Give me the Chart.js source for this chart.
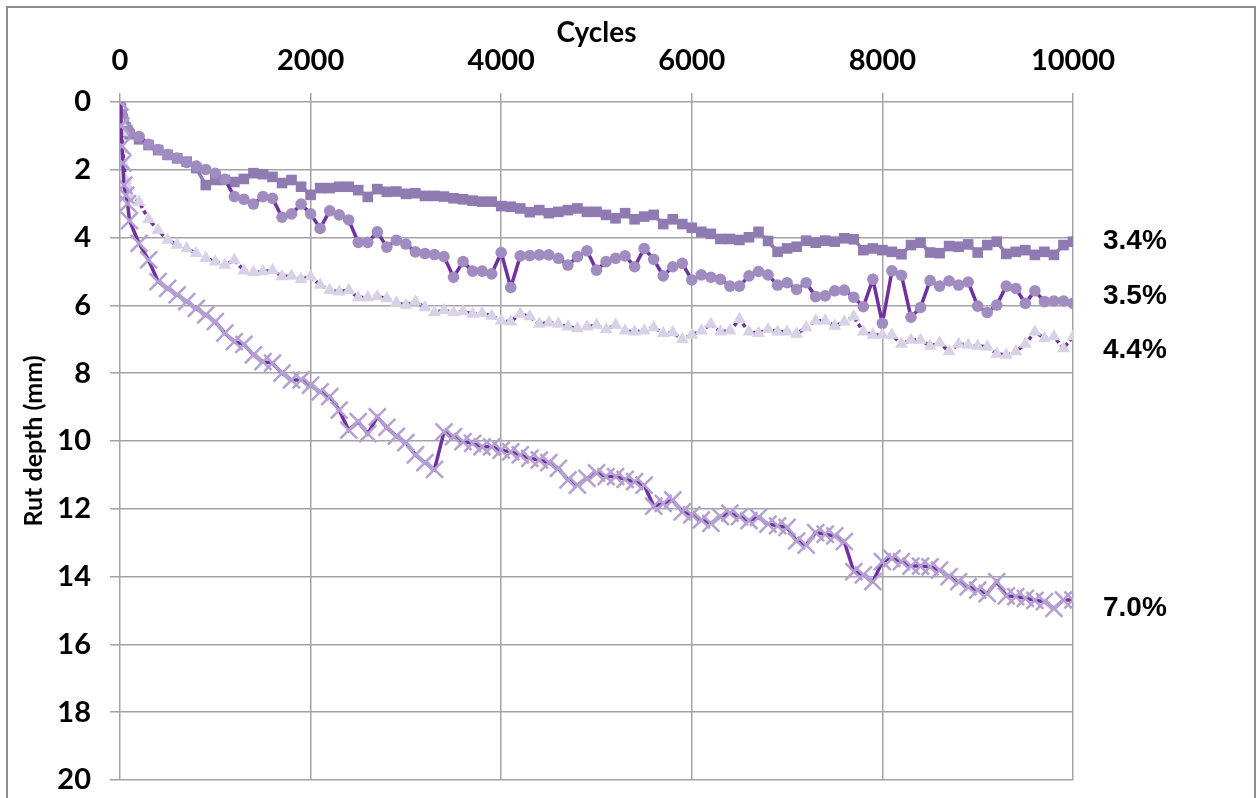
<!DOCTYPE html>
<html>
<head>
<meta charset="utf-8">
<script src="https://cdn.jsdelivr.net/npm/chart.js@4"></script>
<style>
  html, body { margin: 0; padding: 0; background: #fff; }
  canvas { display: block; }
</style>
</head>
<body>
<canvas id="rutChart" width="1260" height="798"></canvas>
<script>
// cycles at which rut depth was read
const cycles = [
    0, 10, 20, 30, 40, 60, 80,
    100, 200, 300, 400, 500, 600, 700, 800, 900, 1000,
    1100, 1200, 1300, 1400, 1500, 1600, 1700, 1800, 1900, 2000,
    2100, 2200, 2300, 2400, 2500, 2600, 2700, 2800, 2900, 3000,
    3100, 3200, 3300, 3400, 3500, 3600, 3700, 3800, 3900, 4000,
    4100, 4200, 4300, 4400, 4500, 4600, 4700, 4800, 4900, 5000,
    5100, 5200, 5300, 5400, 5500, 5600, 5700, 5800, 5900, 6000,
    6100, 6200, 6300, 6400, 6500, 6600, 6700, 6800, 6900, 7000,
    7100, 7200, 7300, 7400, 7500, 7600, 7700, 7800, 7900, 8000,
    8100, 8200, 8300, 8400, 8500, 8600, 8700, 8800, 8900, 9000,
    9100, 9200, 9300, 9400, 9500, 9600, 9700, 9800, 9900, 10000
];

// rut depth (mm), one array per mix
const rut34 = [
    0, 0.2, 0.35, 0.5, 0.65, 0.75, 0.85,
    0.95, 1.10, 1.27, 1.42, 1.56, 1.66, 1.76, 1.95, 2.45, 2.30,
    2.30, 2.36, 2.27, 2.10, 2.13, 2.21, 2.39, 2.30, 2.50, 2.74,
    2.54, 2.54, 2.50, 2.50, 2.60, 2.80, 2.57, 2.65, 2.64, 2.71,
    2.69, 2.77, 2.77, 2.79, 2.84, 2.87, 2.91, 2.94, 2.94, 3.07,
    3.09, 3.14, 3.25, 3.19, 3.28, 3.24, 3.19, 3.14, 3.24, 3.24,
    3.33, 3.43, 3.28, 3.46, 3.38, 3.33, 3.60, 3.46, 3.60, 3.71,
    3.83, 3.89, 4.04, 4.04, 4.07, 3.99, 3.83, 4.10, 4.42, 4.32,
    4.27, 4.09, 4.15, 4.09, 4.12, 4.02, 4.05, 4.37, 4.32, 4.37,
    4.42, 4.49, 4.22, 4.15, 4.44, 4.46, 4.25, 4.27, 4.20, 4.44,
    4.22, 4.12, 4.48, 4.42, 4.37, 4.51, 4.42, 4.51, 4.22, 4.12
];
const rut35 = [
    0, 0.25, 0.4, 0.55, 0.65, 0.72, 0.8,
    0.88, 1.02, 1.25, 1.40, 1.55, 1.65, 1.78, 1.89, 1.99, 2.10,
    2.28, 2.79, 2.87, 3.01, 2.79, 2.84, 3.40, 3.30, 3.01, 3.30,
    3.73, 3.21, 3.33, 3.48, 4.14, 4.14, 3.83, 4.28, 4.08, 4.19,
    4.42, 4.47, 4.50, 4.56, 5.17, 4.71, 4.99, 4.99, 5.07, 4.44,
    5.47, 4.54, 4.53, 4.51, 4.51, 4.61, 4.81, 4.56, 4.39, 4.96,
    4.71, 4.61, 4.54, 4.86, 4.32, 4.64, 5.13, 4.86, 4.76, 5.25,
    5.10, 5.17, 5.23, 5.43, 5.43, 5.13, 5.00, 5.10, 5.40, 5.33,
    5.53, 5.33, 5.74, 5.72, 5.57, 5.55, 5.76, 6.04, 5.23, 6.53,
    4.98, 5.11, 6.35, 6.06, 5.27, 5.43, 5.28, 5.40, 5.31, 6.02,
    6.21, 5.99, 5.43, 5.50, 5.94, 5.57, 5.89, 5.87, 5.87, 5.94
];
const rut44 = [
    0.1, 0.6, 0.9, 1.4, 1.85, 2.3, 2.5,
    2.74, 2.95, 3.46, 3.78, 4.07, 4.22, 4.32, 4.46, 4.61, 4.71,
    4.81, 4.66, 4.98, 5.03, 5.00, 4.96, 5.15, 5.13, 5.23, 5.15,
    5.40, 5.55, 5.60, 5.55, 5.77, 5.77, 5.74, 5.80, 5.92, 5.99,
    5.89, 6.06, 6.21, 6.14, 6.21, 6.18, 6.25, 6.23, 6.31, 6.45,
    6.48, 6.25, 6.33, 6.55, 6.51, 6.55, 6.63, 6.68, 6.63, 6.58,
    6.71, 6.58, 6.75, 6.78, 6.75, 6.65, 6.82, 6.80, 7.00, 6.87,
    6.75, 6.55, 6.78, 6.75, 6.41, 6.78, 6.82, 6.70, 6.78, 6.78,
    6.84, 6.65, 6.45, 6.45, 6.61, 6.48, 6.33, 6.78, 6.87, 6.87,
    6.87, 7.14, 7.02, 7.02, 7.20, 7.10, 7.36, 7.14, 7.17, 7.20,
    7.22, 7.43, 7.46, 7.36, 7.14, 6.78, 6.97, 6.92, 7.27, 6.92
];
const rut70 = [
    0, 0.7, 1.3, 1.8, 2.45, 2.75, 3.0,
    3.50, 4.17, 4.66, 5.30, 5.50, 5.69, 5.89, 6.09, 6.28, 6.48,
    6.82, 7.07, 7.15, 7.46, 7.66, 7.70, 8.00, 8.20, 8.20, 8.35,
    8.55, 8.69, 9.09, 9.68, 9.43, 9.78, 9.29, 9.60, 9.86, 10.05,
    10.41, 10.64, 10.84, 9.73, 9.87, 10.02, 10.07, 10.17, 10.17, 10.27,
    10.32, 10.41, 10.51, 10.56, 10.64, 10.81, 11.15, 11.30, 11.10, 10.94,
    11.05, 11.05, 11.13, 11.20, 11.30, 11.92, 11.84, 11.74, 12.09, 12.18,
    12.33, 12.43, 12.23, 12.13, 12.23, 12.35, 12.25, 12.45, 12.50, 12.55,
    12.95, 13.07, 12.70, 12.75, 12.80, 12.97, 13.85, 13.95, 14.15, 13.56,
    13.46, 13.56, 13.69, 13.69, 13.71, 13.81, 14.00, 14.15, 14.30, 14.40,
    14.50, 14.15, 14.57, 14.59, 14.64, 14.70, 14.74, 14.94, 14.69, 14.69
];

const seriesLabels = ['3.4%', '3.5%', '4.4%', '7.0%'];
const xTicks = [0, 2000, 4000, 6000, 8000, 10000];
const yTicks = [0, 2, 4, 6, 8, 10, 12, 14, 16, 18, 20];

// where the side labels sit, in mm on the depth axis
const labelDepth = [4.1, 5.72, 7.32, 14.93];

function toPoints(vals) {
    return cycles.map((c, i) => ({ x: c, y: vals[i] }));
}

const darkPurple = '#7030a0';
const tickFont = { family: 'Lato', weight: 'bold', size: 29 };

const sideLabels = {
    id: 'sideLabels',
    afterDraw(chart) {
        const ctx = chart.ctx;
        const y = chart.scales.y;
        ctx.save();
        // outer frame
        ctx.strokeStyle = '#8c8c8c';
        ctx.lineWidth = 2;
        ctx.strokeRect(7, 7, 1248, 800);
        ctx.fillStyle = '#000';
        ctx.font = 'bold 28px "Liberation Sans", Arial, sans-serif';
        ctx.textAlign = 'left';
        ctx.textBaseline = 'middle';
        seriesLabels.forEach((txt, i) => {
            ctx.fillText(txt, 1103, y.getPixelForValue(labelDepth[i]));
        });
        ctx.restore();
    }
};

new Chart(document.getElementById('rutChart'), {
    type: 'scatter',
    data: {
        datasets: [{
            label: seriesLabels[0],
            data: toPoints(rut34),
            showLine: true,
            borderColor: '#8f7ab2',
            borderWidth: 3.5,
            pointStyle: 'rect',
            pointRadius: 7.5,
            pointBackgroundColor: '#8f7ab2',
            pointBorderWidth: 0,
            order: 4
        }, {
            label: seriesLabels[1],
            data: toPoints(rut35),
            showLine: true,
            borderColor: darkPurple,
            borderWidth: 3.5,
            pointStyle: 'circle',
            pointRadius: 5.8,
            pointBackgroundColor: '#a08cc0',
            pointBorderWidth: 0,
            order: 3
        }, {
            label: seriesLabels[2],
            data: toPoints(rut44),
            showLine: true,
            borderColor: darkPurple,
            borderWidth: 3.5,
            borderDash: [4, 3],
            pointStyle: 'triangle',
            pointRadius: 7.5,
            pointBackgroundColor: '#d8d2e6',
            pointBorderWidth: 0,
            order: 2
        }, {
            label: seriesLabels[3],
            data: toPoints(rut70),
            showLine: true,
            borderColor: darkPurple,
            borderWidth: 3.5,
            pointStyle: 'crossRot',
            pointRadius: 12,
            pointBorderColor: '#b4a0d2',
            pointBorderWidth: 2.5,
            order: 1
        }]
    },
    options: {
        responsive: false,
        animation: false,
        layout: { padding: { left: 0, top: 0, right: 187, bottom: 18 } },
        plugins: {
            legend: { display: false },
            tooltip: { enabled: false }
        },
        scales: {
            x: {
                type: 'linear',
                position: 'top',
                min: 0,
                max: 10000,
                afterFit(scale) {
                    scale.height = 102;
                    scale.paddingLeft = 0;
                    scale.paddingRight = 0;
                },
                afterBuildTicks(scale) { scale.ticks = xTicks.map(v => ({ value: v })); },
                border: { display: false },
                grid: { color: '#a3a3a3', lineWidth: 1.5, tickLength: 9 },
                ticks: { font: tickFont, color: '#000', padding: 15, maxRotation: 0, callback: v => String(v) },
                title: { display: true, text: 'Cycles', font: { family: 'Lato', weight: 'bold', size: 28 }, color: '#000', padding: 16 }
            },
            y: {
                type: 'linear',
                reverse: true,
                min: 0,
                max: 20,
                afterFit(scale) {
                    scale.width = 120;
                    scale.paddingTop = 0;
                    scale.paddingBottom = 0;
                },
                afterBuildTicks(scale) { scale.ticks = yTicks.map(v => ({ value: v })); },
                border: { display: false },
                grid: { color: '#a3a3a3', lineWidth: 1.5, tickLength: 10 },
                ticks: { font: tickFont, color: '#000', padding: 19 },
                title: { display: true, text: 'Rut depth (mm)', font: { family: 'Lato', weight: 'bold', size: 25 }, color: '#000', padding: 19 }
            }
        }
    },
    plugins: [sideLabels]
});
</script>
</body>
</html>
